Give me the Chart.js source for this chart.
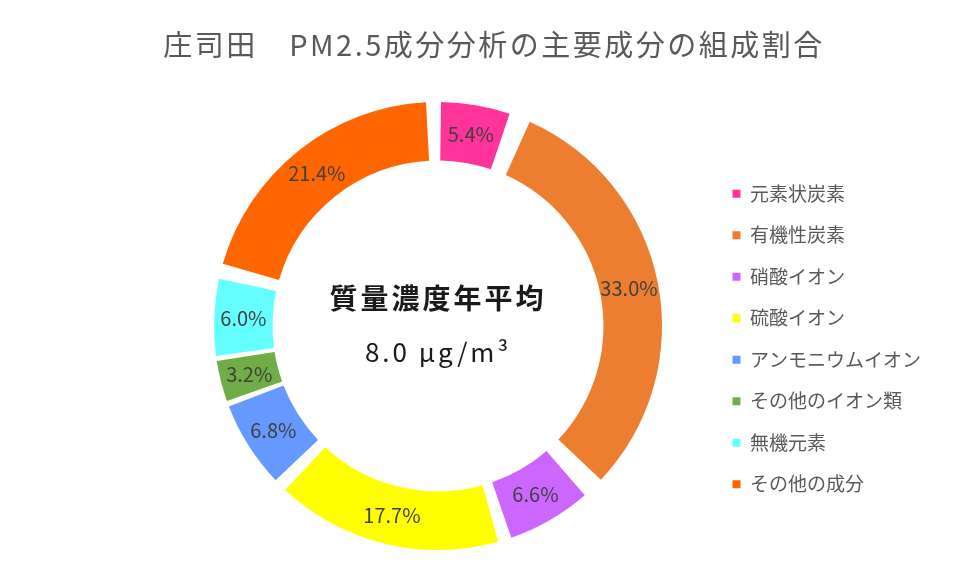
<!DOCTYPE html>
<html lang="ja">
<head>
<meta charset="utf-8">
<script src="https://cdn.jsdelivr.net/npm/chart.js@4.4.1/dist/chart.umd.min.js"></script>
<style>
  html, body { margin: 0; padding: 0; background: #fff; }
  #wrap { width: 958px; height: 578px; }
</style>
</head>
<body>
<div id="wrap"><canvas id="pmChart"></canvas></div>
<script>
const titleText = '庄司田　PM2.5成分分析の主要成分の組成割合';
const components = ['元素状炭素', '有機性炭素', '硝酸イオン', '硫酸イオン', 'アンモニウムイオン', 'その他のイオン類', '無機元素', 'その他の成分'];
const shares = [5.4, 33.0, 6.6, 17.7, 6.8, 3.2, 6.0, 21.4];
const sliceColors = ['#ff3399', '#ed7d31', '#cc66ff', '#ffff00', '#6699ff', '#70ad47', '#66ffff', '#ff6600'];
const centerLines = ['質量濃度年平均', '8.0 μg/m³'];

const jpFont = '"Noto Sans CJK JP", "Noto Sans", sans-serif';

// title, slice percentages and the text in the hole
const overlayText = {
    id: 'overlayText',
    afterDatasetsDraw(chart) {
        const ctx = chart.ctx;
        const arcs = chart.getDatasetMeta(0).data;
        ctx.save();
        ctx.textAlign = 'center';
        ctx.textBaseline = 'middle';

        ctx.fillStyle = '#404040';
        ctx.font = '20px ' + jpFont;
        arcs.forEach((arc, i) => {
            const p = arc.tooltipPosition();
            ctx.fillText(shares[i].toFixed(1) + '%', p.x, p.y);
        });

        const cx = arcs[0].x;
        const cy = arcs[0].y;
        ctx.fillStyle = '#1a1a1a';
        if ('letterSpacing' in ctx) ctx.letterSpacing = '3px';
        ctx.font = 'bold 28px ' + jpFont;
        ctx.fillText(centerLines[0], cx, cy - 28);
        ctx.font = '26px ' + jpFont;
        ctx.fillText(centerLines[1], cx, cy + 26);

        ctx.fillStyle = '#595959';
        if ('letterSpacing' in ctx) ctx.letterSpacing = '2.5px';
        ctx.font = '29px ' + jpFont;
        ctx.fillText(titleText, 494, 45);
        ctx.restore();
    }
};

new Chart(document.getElementById('pmChart'), {
    type: 'doughnut',
    data: {
        labels: components,
        datasets: [{
            data: shares,
            backgroundColor: sliceColors,
            borderWidth: 0,
            spacing: 30
        }]
    },
    options: {
        responsive: true,
        maintainAspectRatio: false,
        animation: false,
        cutout: '72%',
        layout: {
            padding: { top: 102, bottom: 28, left: 166, right: 27 }
        },
        plugins: {
            tooltip: { enabled: false },
            legend: {
                position: 'right',
                title: {
                    display: true,
                    text: ' ',
                    font: { size: 10 },
                    padding: 7
                },
                labels: {
                    boxWidth: 8,
                    boxHeight: 8,
                    padding: 22.5,
                    color: '#595959',
                    font: { size: 19, family: jpFont }
                }
            }
        }
    },
    plugins: [overlayText]
});
</script>
</body>
</html>
